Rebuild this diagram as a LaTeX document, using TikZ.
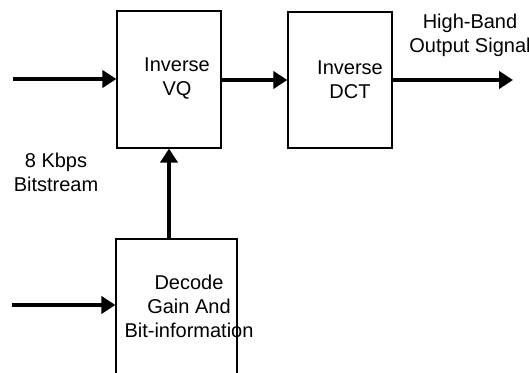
\documentclass[tikz,border=0pt]{standalone}
\usepackage{fontspec}
\setmainfont{Liberation Sans}
\usetikzlibrary{arrows.meta}
\begin{document}
\begin{tikzpicture}[x=0.75pt,y=-0.75pt,
  font=\fontsize{15}{18}\selectfont,
  blk/.style={draw=black, line width=1pt, rectangle, inner sep=0pt},
  lbl/.style={align=center, inner sep=0pt},
  arr/.style={line width=2.4pt, -{Triangle[length=10.5pt,width=13pt]}}]
\useasboundingbox (0,0) rectangle (529,373);
\clip (0,0) rectangle (529,373);
\node[blk, minimum width=78pt, minimum height=102.75pt] (vq) at (169,79.5) {};
\node[blk, minimum width=78pt, minimum height=102pt] (dct) at (340,80) {};
\node[blk, minimum width=90.75pt, minimum height=120.75pt] (dec) at (176.5,319.5) {};
\node[lbl] (vqt) at (177,79) {Inverse\\VQ};
\node[lbl] (dctt) at (350,80) {Inverse\\DCT};
\node[lbl] (dect) at (189,306) {Decode\\Gain And\\Bit-information};
\node[lbl] (bits) at (56,172) {8 Kbps\\Bitstream};
\node[lbl] (outl) at (470,35) {High-Band\\Output Signal};
\coordinate (in1) at (13,79);
\coordinate (in2) at (12,305);
\coordinate (out) at (513,80);
\draw[arr] (in1) -- (vq.west |- in1);
\draw[arr] (vq.east |- dct.west) -- (dct.west);
\draw[arr] (dct.east) -- (out);
\draw[arr] (vq.south |- dec.north) -- (vq.south);
\draw[arr] (in2) -- (dec.west |- in2);
\end{tikzpicture}
\end{document}
